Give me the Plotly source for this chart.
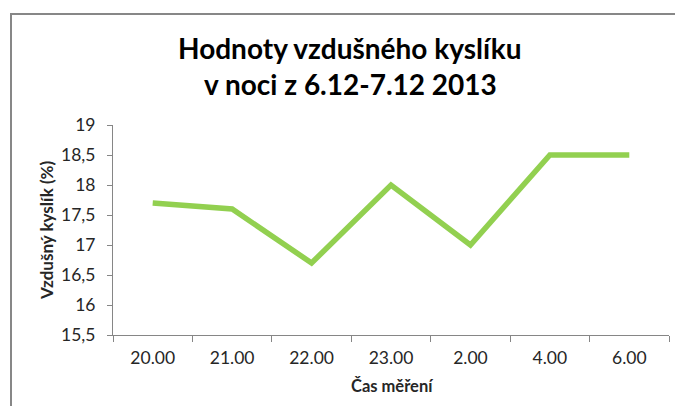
import plotly.graph_objects as go

categories = ["20.00", "21.00", "22.00", "23.00", "2.00", "4.00", "6.00"]
oxygen = [17.7, 17.6, 16.7, 18.0, 17.0, 18.5, 18.5]
title_lines = ["Hodnoty vzdušného kyslíku", "v noci z 6.12-7.12 2013"]
x_title = "Čas měření"
y_title = "Vzdušný kyslík (%)"

OFF = 8  # default body margin of the html page
WIN_W, WIN_H = 683, 414
W, H = WIN_W - OFF, WIN_H - 2 * OFF  # keep the page free of scrollbars
# plot area in page pixels
PX0, PX1, PY0, PY1 = 113, 669, 125, 335
L = PX0 - OFF
T = PY0 - OFF
R = W - (PX1 - OFF)
B = H - (PY1 - OFF)
pw, ph = PX1 - PX0, PY1 - PY0

def px_x(x):
    return (x - PX0) / pw

def px_y(y):
    return (PY1 - y) / ph

FONT = "Lato"
TXT = "#262626"

fig = go.Figure()
fig.add_trace(go.Scatter(
    x=categories, y=oxygen, mode="lines",
    line=dict(color="#92D050", width=5.5),
    showlegend=False, hoverinfo="skip",
))

fig.update_layout(
    width=W, height=H,
    margin=dict(l=L, r=R, t=T, b=B),
    paper_bgcolor="white", plot_bgcolor="white",
    separators=", ",
    font=dict(family=FONT, color=TXT),
    xaxis=dict(
        type="category", range=[-0.5, len(categories) - 0.5],
        tickson="boundaries", ticks="outside", ticklen=6,
        tickcolor="#868686", showline=True, linecolor="#868686", linewidth=1,
        showgrid=False, tickfont=dict(size=17.5, color=TXT),
        ticklabelstandoff=7,
        fixedrange=True,
    ),
    yaxis=dict(
        range=[15.5, 19], dtick=0.5, tick0=15.5, ticks="outside", ticklen=5,
        tickcolor="#868686", showline=True, linecolor="#868686", linewidth=1,
        showgrid=False, zeroline=False, tickfont=dict(size=17.5, color=TXT),
        ticklabelstandoff=8,
        fixedrange=True,
    ),
)

for txt, ypx in zip(title_lines, [48, 84]):
    fig.add_annotation(
        text=f"<b>{txt}</b>", xref="paper", yref="paper",
        x=px_x(350), y=px_y(ypx), xanchor="center", yanchor="middle",
        showarrow=False, font=dict(family=FONT, size=28, color="#000000"),
    )

fig.add_annotation(
    text=f"<b>{x_title}</b>", xref="paper", yref="paper",
    x=px_x(392), y=px_y(386), xanchor="center", yanchor="middle",
    showarrow=False, font=dict(family=FONT, size=16.5, color=TXT),
)
fig.add_annotation(
    text=f"<b>{y_title}</b>", xref="paper", yref="paper",
    x=px_x(46), y=px_y(230), xanchor="center", yanchor="middle",
    textangle=-90, showarrow=False, font=dict(family=FONT, size=17, color=TXT),
)

# chart-area frame: only the top and left edges are visible in the crop
bx0, by_top, by_bot, bx_right = px_x(11), px_y(14), px_y(WIN_H + 30), px_x(WIN_W + 30)
fig.add_shape(
    type="path", xref="paper", yref="paper",
    path=f"M {bx0},{by_bot} L {bx0},{by_top} L {bx_right},{by_top}",
    line=dict(color="#878787", width=2), layer="below",
)

fig.write_html("out.html")
